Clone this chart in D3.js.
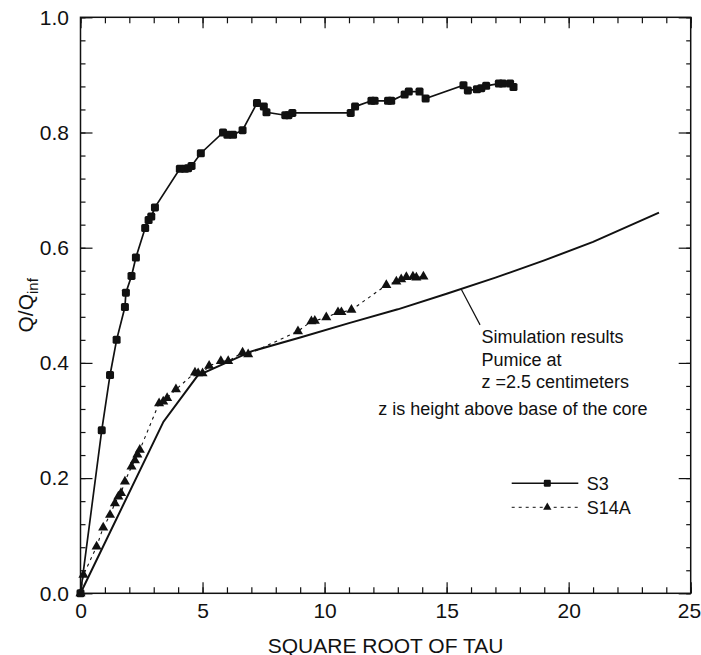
<!DOCTYPE html>
<html>
<head>
<meta charset="utf-8">
<script src="https://cdn.jsdelivr.net/npm/d3@7"></script>
<style>
  html, body { margin: 0; padding: 0; background: #fff; }
  svg { display: block; }
  text { font-family: "Liberation Sans", Arial, Helvetica, sans-serif; fill: #111; }
</style>
</head>
<body>
<svg id="chart" width="701" height="655"></svg>
<script>
// Sample S3: measured recovery vs square root of tau
const s3X = [0, 0.87, 1.21, 1.48, 1.82, 1.86, 2.09, 2.27, 2.65, 2.79, 2.90, 3.05, 4.07, 4.28, 4.41,
  4.55, 4.93, 5.84, 6.02, 6.25, 6.64, 7.23, 7.51, 7.62, 8.39, 8.52, 8.68, 11.07, 11.25, 11.92,
  12.05, 12.60, 12.73, 13.28, 13.45, 13.89, 14.14, 15.69, 15.87, 16.24, 16.42, 16.62, 17.14, 17.30,
  17.60, 17.74];
const s3Y = [0, 0.283, 0.379, 0.440, 0.497, 0.522, 0.551, 0.583, 0.634, 0.648, 0.654, 0.670, 0.737, 0.737, 0.738,
  0.742, 0.764, 0.800, 0.796, 0.796, 0.804, 0.851, 0.845, 0.835, 0.830, 0.830, 0.834, 0.834, 0.845, 0.855,
  0.855, 0.855, 0.855, 0.866, 0.871, 0.871, 0.859, 0.882, 0.873, 0.875, 0.877, 0.881, 0.885, 0.885,
  0.885, 0.879];

// Sample S14A
const s14X = [0, 0.12, 0.66, 0.93, 1.21, 1.41, 1.55, 1.66, 1.82, 2.09, 2.23, 2.33, 2.43, 3.22, 3.39,
  3.55, 3.91, 4.69, 4.82, 5.00, 5.27, 5.75, 6.05, 6.64, 6.87, 8.91, 9.46, 9.60, 10.07, 10.55,
  10.69, 11.10, 12.53, 12.94, 13.14, 13.35, 13.62, 13.76, 14.05];
const s14Y = [0, 0.032, 0.081, 0.114, 0.136, 0.156, 0.168, 0.174, 0.194, 0.220, 0.231, 0.241, 0.249, 0.330, 0.333,
  0.339, 0.354, 0.383, 0.382, 0.382, 0.395, 0.403, 0.403, 0.418, 0.415, 0.455, 0.472, 0.473, 0.479, 0.488,
  0.488, 0.492, 0.535, 0.541, 0.545, 0.549, 0.550, 0.548, 0.550];

// Simulation results, pumice at z = 2.5 cm
const simX = [0, 3.4, 4.8, 7.0, 9.0, 11.0, 13.0, 15.0, 17.0, 19.0, 21.0, 23.7];
const simY = [0, 0.298, 0.378, 0.420, 0.444, 0.469, 0.493, 0.520, 0.548, 0.578, 0.610, 0.661];

const xMajorTicks = [0, 5, 10, 15, 20, 25];
const yMajorTicks = [0, 0.2, 0.4, 0.6, 0.8, 1.0];
const seriesNames = ["S3", "S14A"];
const annotationLines = ["Simulation results", "Pumice at", "z =2.5 centimeters"];
const annotationNote = "z is height above base of the core";

const svg = d3.select("#chart");
const x = d3.scaleLinear().domain([0, 25]).range([80.5, 690.7]);
const y = d3.scaleLinear().domain([0, 1]).range([593.3, 17.3]);
const [x0, x1] = x.range();
const [y0, y1] = y.range();

const xMinor = d3.range(0, 26, 1);
const yMinor = d3.range(0, 1.0001, 0.04);

function styleAxis(g) {
  g.select(".domain").remove();
  g.selectAll(".tick line").attr("stroke", "#111").attr("stroke-width", 1.2);
  g.selectAll("text").style("font-size", "21px").attr("fill", "#111");
}

// bottom: minor + major inward ticks with labels
svg.append("g").attr("transform", `translate(0,${y0})`)
  .call(d3.axisBottom(x).tickValues(xMinor).tickSize(-6).tickFormat(""))
  .call(styleAxis);
svg.append("g").attr("transform", `translate(0,${y0})`)
  .call(d3.axisBottom(x).tickValues(xMajorTicks).tickSize(-11).tickPadding(10).tickFormat(d3.format("d")))
  .call(styleAxis)
  // keep the last label inside the page edge
  .call(g => g.selectAll(".tick text").filter(d => d === 25).attr("dx", -1.8));
// top ticks
svg.append("g").attr("transform", `translate(0,${y1})`)
  .call(d3.axisTop(x).tickValues(xMinor).tickSize(-6).tickFormat(""))
  .call(styleAxis);
svg.append("g").attr("transform", `translate(0,${y1})`)
  .call(d3.axisTop(x).tickValues(xMajorTicks).tickSize(-11).tickFormat(""))
  .call(styleAxis);
// left
svg.append("g").attr("transform", `translate(${x0},0)`)
  .call(d3.axisLeft(y).tickValues(yMinor).tickSize(-5).tickFormat(""))
  .call(styleAxis);
svg.append("g").attr("transform", `translate(${x0},0)`)
  .call(d3.axisLeft(y).tickValues(yMajorTicks).tickSize(-12).tickPadding(11.5).tickFormat(d3.format(".1f")))
  .call(styleAxis);
// right
svg.append("g").attr("transform", `translate(${x1},0)`)
  .call(d3.axisRight(y).tickValues(yMinor).tickSize(-4.5).tickFormat(""))
  .call(styleAxis);
svg.append("g").attr("transform", `translate(${x1},0)`)
  .call(d3.axisRight(y).tickValues(yMajorTicks).tickSize(-12).tickFormat(""))
  .call(styleAxis);

// frame
svg.append("rect")
  .attr("x", x0).attr("y", y1)
  .attr("width", x1 - x0).attr("height", y0 - y1)
  .attr("fill", "none").attr("stroke", "#111").attr("stroke-width", 1.5);

// axis titles
svg.append("text")
  .attr("x", (x0 + x1) / 2).attr("y", 652.5)
  .attr("text-anchor", "middle")
  .style("font-size", "21px")
  .text("SQUARE ROOT OF TAU");

const yTitle = svg.append("text")
  .attr("transform", `translate(33,${(y0 + y1) / 2}) rotate(-90)`)
  .attr("text-anchor", "middle")
  .style("font-size", "21px");
yTitle.append("tspan").text("Q/Q");
yTitle.append("tspan").attr("dy", 5).style("font-size", "15px").text("inf");

const line = d3.line().x(d => x(d[0])).y(d => y(d[1]));
const simData = simX.map((v, i) => [v, simY[i]]);
const s3Data = s3X.map((v, i) => [v, s3Y[i]]);
const s14Data = s14X.map((v, i) => [v, s14Y[i]]);

// simulation curve
svg.append("path").datum(simData)
  .attr("d", line).attr("fill", "none")
  .attr("stroke", "#111").attr("stroke-width", 2);

// S14A dashed line with triangles
svg.append("path").datum(s14Data)
  .attr("d", line).attr("fill", "none")
  .attr("stroke", "#111").attr("stroke-width", 1.1).attr("stroke-dasharray", "3,4");
const tri = d3.symbol().type(d3.symbolTriangle).size(44);
svg.append("g").selectAll("path").data(s14Data).join("path")
  .attr("d", tri)
  .attr("transform", d => `translate(${x(d[0])},${y(d[1])})`)
  .attr("fill", "#111");

// S3 solid line with squares
svg.append("path").datum(s3Data)
  .attr("d", line).attr("fill", "none")
  .attr("stroke", "#111").attr("stroke-width", 1.7);
svg.append("g").selectAll("rect").data(s3Data).join("rect")
  .attr("x", d => x(d[0]) - 4).attr("y", d => y(d[1]) - 4)
  .attr("width", 8).attr("height", 8).attr("rx", 1.6)
  .attr("fill", "#111");

// annotation leader from the simulation curve
const leaderFrom = [15.6, 0.528];
const leaderTo = [16.37, 0.466];
svg.append("line")
  .attr("x1", x(leaderFrom[0])).attr("y1", y(leaderFrom[1]))
  .attr("x2", x(leaderTo[0])).attr("y2", y(leaderTo[1]))
  .attr("stroke", "#111").attr("stroke-width", 1.2);

const noteX = x(16.43);
annotationLines.forEach((t, i) => {
  svg.append("text")
    .attr("x", noteX).attr("y", 343.3 + i * 22.5)
    .style("font-size", "18px")
    .text(t);
});
svg.append("text")
  .attr("x", x(12.2)).attr("y", 415)
  .style("font-size", "18px")
  .text(annotationNote);

// legend
const legX1 = 511.7, legX2 = 578.3, legMid = 547.3;
const legRows = [483.3, 507.3];
svg.append("line").attr("x1", legX1).attr("x2", legX2)
  .attr("y1", legRows[0]).attr("y2", legRows[0])
  .attr("stroke", "#111").attr("stroke-width", 1.5);
svg.append("rect").attr("x", legMid - 3.5).attr("y", legRows[0] - 3.5)
  .attr("width", 7).attr("height", 7).attr("rx", 1.2).attr("fill", "#111");
svg.append("line").attr("x1", legX1).attr("x2", legX2)
  .attr("y1", legRows[1]).attr("y2", legRows[1])
  .attr("stroke", "#111").attr("stroke-width", 1).attr("stroke-dasharray", "3,4");
svg.append("path").attr("d", d3.symbol().type(d3.symbolTriangle).size(30))
  .attr("transform", `translate(${legMid},${legRows[1]})`).attr("fill", "#111");
seriesNames.forEach((n, i) => {
  svg.append("text")
    .attr("x", 586.7).attr("y", legRows[i] + 6.3)
    .style("font-size", "18px")
    .text(n);
});
</script>
</body>
</html>
